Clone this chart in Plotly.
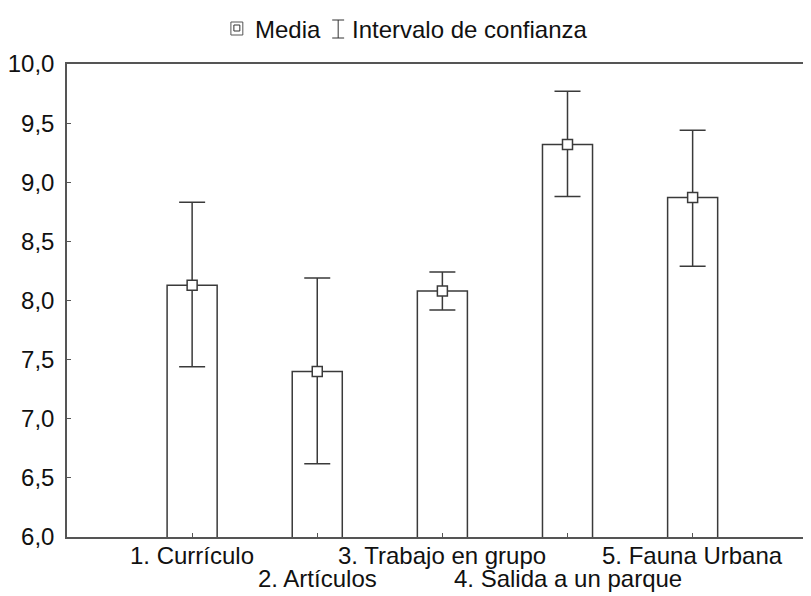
import plotly.graph_objects as go

categories = ["1. Currículo", "2. Artículos", "3. Trabajo en grupo",
              "4. Salida a un parque", "5. Fauna Urbana"]
means = [8.13, 7.40, 8.08, 9.32, 8.87]
ci_upper = [8.83, 8.19, 8.24, 9.77, 9.44]
ci_lower = [7.44, 6.62, 7.92, 8.88, 8.29]
y_ticks = [6.0, 6.5, 7.0, 7.5, 8.0, 8.5, 9.0, 9.5, 10.0]
legend_labels = ["Media", "Intervalo de confianza"]

OFF = 8  # page body margin
W, H = 811 - OFF, 596 - OFF
ML, MT, MB, MR = 62 - OFF, 64 - OFF, 596 - 537, 0
PW, PH = W - ML - MR, H - MT - MB
FONT = "Arial, Liberation Sans, sans-serif"
FS = 24
LC = "#3a3a3a"


def px(x):
    return (x - OFF - ML) / PW


def py(y):
    return (H - MB - (y - OFF)) / PH


xpos = list(range(len(categories)))
err_plus = [u - m for u, m in zip(ci_upper, means)]
err_minus = [m - l for m, l in zip(means, ci_lower)]

fig = go.Figure()
fig.add_trace(go.Bar(
    x=xpos, y=means, width=0.4,
    marker=dict(color="white", line=dict(color=LC, width=1.5)),
    showlegend=False, hoverinfo="skip",
))
fig.add_trace(go.Scatter(
    x=xpos, y=means, mode="markers",
    marker=dict(symbol="square", size=10, color="white",
                line=dict(color=LC, width=1.5)),
    error_y=dict(type="data", symmetric=False, array=err_plus,
                 arrayminus=err_minus, color=LC, thickness=1.5, width=13),
    showlegend=False,
))

annotations = []
for i, lab in enumerate(categories):
    row = i % 2
    annotations.append(dict(
        x=i, y=0, xref="x", yref="paper", text=lab, showarrow=False,
        xanchor="center", yanchor="middle",
        yshift=-(18 + 23 * row),
        font=dict(family=FONT, size=FS, color="#111"),
    ))

# legend
annotations.append(dict(x=px(249), y=py(29), xref="paper", yref="paper",
                        text=legend_labels[0], showarrow=False,
                        xanchor="left", yanchor="middle",
                        font=dict(family=FONT, size=FS, color="#111")))
annotations.append(dict(x=px(347), y=py(29), xref="paper", yref="paper",
                        text=legend_labels[1], showarrow=False,
                        xanchor="left", yanchor="middle",
                        font=dict(family=FONT, size=FS, color="#111")))

shapes = [
    dict(type="rect", xref="paper", yref="paper",
         x0=px(227), x1=px(239), y0=py(35), y1=py(22),
         line=dict(color="#555", width=1)),
    dict(type="rect", xref="paper", yref="paper",
         x0=px(230), x1=px(236), y0=py(31), y1=py(25),
         line=dict(color="#333", width=1)),
    dict(type="line", xref="paper", yref="paper",
         x0=px(335), x1=px(335), y0=py(20), y1=py(38),
         line=dict(color="#333", width=1)),
    dict(type="line", xref="paper", yref="paper",
         x0=px(329), x1=px(341), y0=py(20), y1=py(20),
         line=dict(color="#333", width=1)),
    dict(type="line", xref="paper", yref="paper",
         x0=px(329), x1=px(341), y0=py(38), y1=py(38),
         line=dict(color="#333", width=1)),
]

fig.update_layout(
    width=W, height=H,
    margin=dict(l=ML, r=MR, t=MT, b=MB, pad=0),
    paper_bgcolor="white", plot_bgcolor="white",
    separators=", ",
    font=dict(family=FONT, size=FS, color="#111"),
    showlegend=False,
    annotations=annotations, shapes=shapes,
    xaxis=dict(range=[-1, 4.946], tickvals=xpos, ticktext=[""] * len(xpos),
               ticks="inside", ticklen=4, tickcolor="#555",
               showline=True, linecolor="#555", linewidth=1.5, mirror=True,
               showgrid=False, zeroline=False, fixedrange=True),
    yaxis=dict(range=[6, 10], tickvals=y_ticks, tickformat=".1f",
               ticks="inside", ticklen=4, tickcolor="#555",
               showline=True, linecolor="#555", linewidth=1.5, mirror=False,
               showgrid=False, zeroline=False, ticklabelstandoff=6,
               tickfont=dict(family=FONT, size=FS, color="#111")),
)

fig.write_html("out.html")
